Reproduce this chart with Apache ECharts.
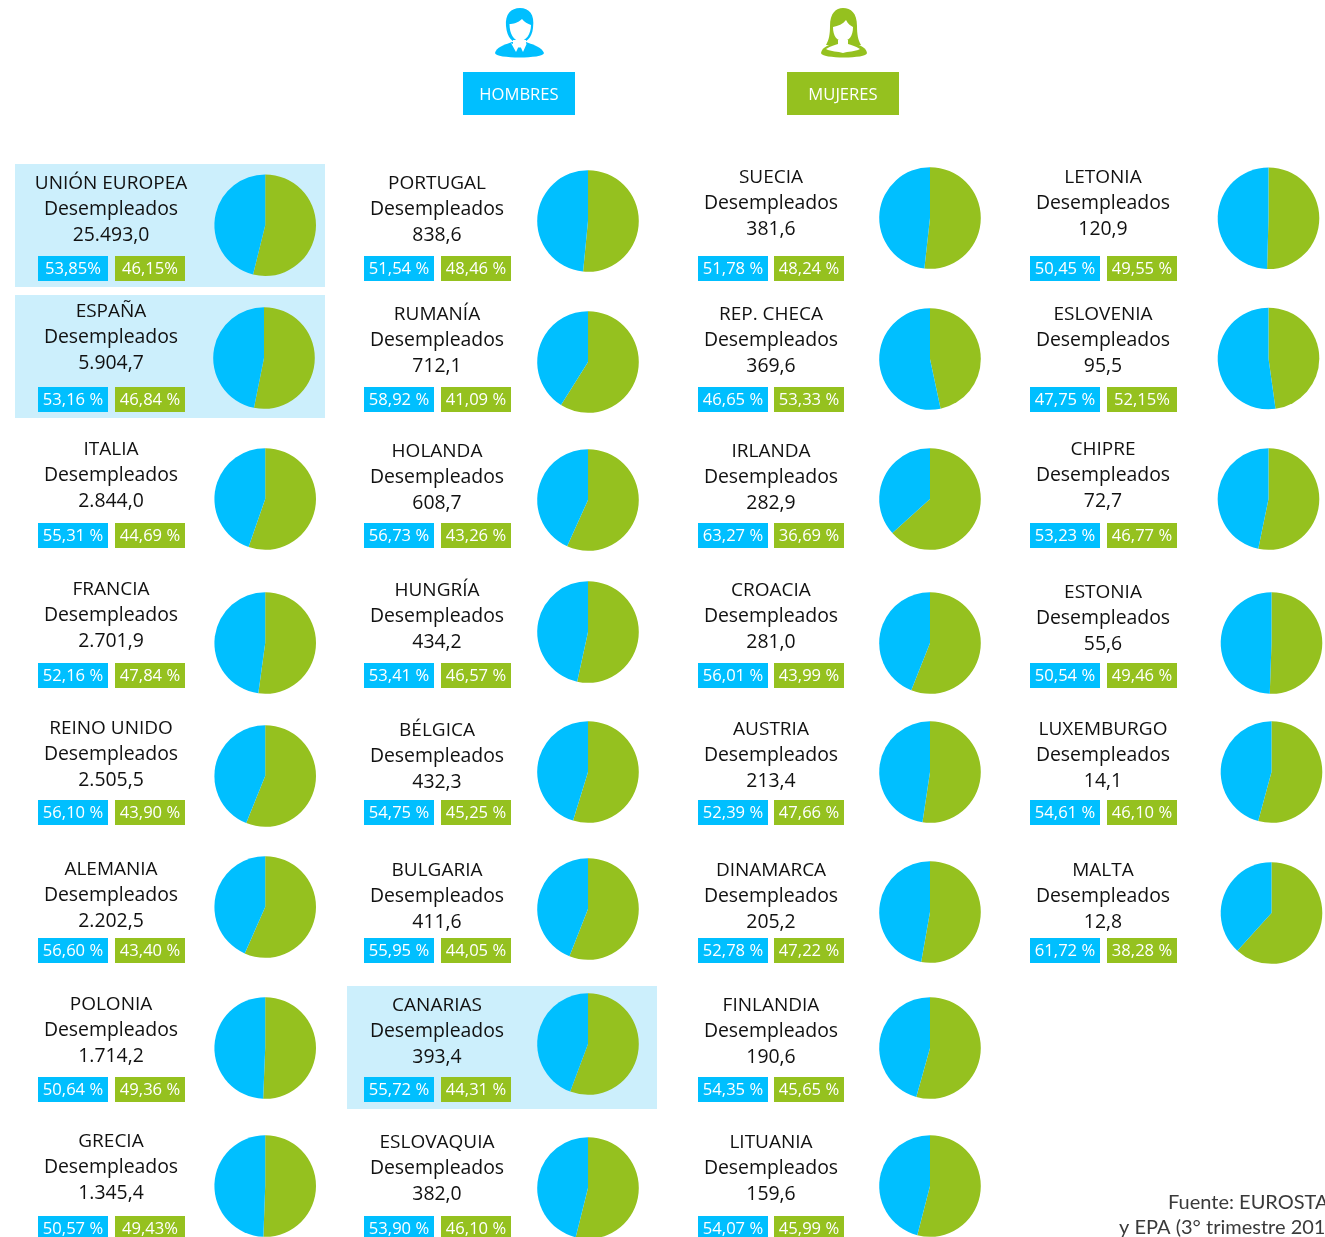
<!DOCTYPE html>
<html><head><meta charset="utf-8">
<style>html,body{margin:0;padding:0;background:#fff;overflow:hidden}#c{width:1325px;height:1237px}</style>
<script src="https://cdn.jsdelivr.net/npm/echarts@6/dist/echarts.min.js"></script>
</head><body><div id="c"></div>
<script>
// ---------- data ----------
const paises = ['UNIÓN EUROPEA','ESPAÑA','ITALIA','FRANCIA','REINO UNIDO','ALEMANIA','POLONIA','GRECIA',
 'PORTUGAL','RUMANÍA','HOLANDA','HUNGRÍA','BÉLGICA','BULGARIA','CANARIAS','ESLOVAQUIA',
 'SUECIA','REP. CHECA','IRLANDA','CROACIA','AUSTRIA','DINAMARCA','FINLANDIA','LITUANIA',
 'LETONIA','ESLOVENIA','CHIPRE','ESTONIA','LUXEMBURGO','MALTA'];
const desempleados = ['25.493,0','5.904,7','2.844,0','2.701,9','2.505,5','2.202,5','1.714,2','1.345,4',
 '838,6','712,1','608,7','434,2','432,3','411,6','393,4','382,0',
 '381,6','369,6','282,9','281,0','213,4','205,2','190,6','159,6',
 '120,9','95,5','72,7','55,6','14,1','12,8'];
const hombres = ['53,85%','53,16 %','55,31 %','52,16 %','56,10 %','56,60 %','50,64 %','50,57 %',
 '51,54 %','58,92 %','56,73 %','53,41 %','54,75 %','55,95 %','55,72 %','53,90 %',
 '51,78 %','46,65 %','63,27 %','56,01 %','52,39 %','52,78 %','54,35 %','54,07 %',
 '50,45 %','47,75 %','53,23 %','50,54 %','54,61 %','61,72 %'];
const mujeres = ['46,15%','46,84 %','44,69 %','47,84 %','43,90 %','43,40 %','49,36 %','49,43%',
 '48,46 %','41,09 %','43,26 %','46,57 %','45,25 %','44,05 %','44,31 %','46,10 %',
 '48,24 %','53,33 %','36,69 %','43,99 %','47,66 %','47,22 %','45,65 %','45,99 %',
 '49,55 %','52,15%','46,77 %','49,46 %','46,10 %','38,28 %'];
const resaltados = ['UNIÓN EUROPEA','ESPAÑA','CANARIAS'];
const fuente = ['Fuente: EUROSTAT','y EPA (3° trimestre 201'];

// ---------- layout (px) ----------
const AZUL='#00BFFF', VERDE='#95C11F', FONT='"Open Sans", sans-serif';
const colText=[111,437,771,1103], colBlue=[38,364,698,1030], colGreen=[115,441,774,1107];
// [column, name y, pie cx, pie cy, badge y centre]
const lay=[
 [0,183,265.2,225.2,268],[0,311,264,358,399],[0,449,265.2,499,535],[0,589,265.2,643,675],[0,728,265.2,776,812],[0,869,265.2,907,950],[0,1004,265.2,1048,1089],[0,1141,265.2,1186,1228],
 [1,183,588,221,268],[1,314,588,362,399],[1,451,588,500,535],[1,590,588,632,675],[1,730,588,772,812],[1,870,588,909,950],[1,1005,588,1044,1089],[1,1142,588,1188,1228],
 [2,177,930,218,268],[2,314,930,359,399],[2,451,930,499,535],[2,590,930,643,675],[2,729,930,772,812],[2,870,930,912,950],[2,1005,930,1048,1089],[2,1142,930,1186,1228],
 [3,177,1268.5,218.2,268],[3,314,1268.5,358.5,399],[3,449,1268.5,499,535],[3,592,1271.5,643,675],[3,729,1271.5,772,812],[3,870,1271.5,913,950]
];
const paneles={'UNIÓN EUROPEA':[15,164],'ESPAÑA':[15,295],'CANARIAS':[347,986]};

const num=s=>parseFloat(s.replace(',','.'));
const series=[], g=[];
resaltados.forEach(n=>{const p=paneles[n];
 g.push({type:'rect',z:0,shape:{x:p[0],y:p[1],width:310,height:123},style:{fill:'#CCEFFC'}});});
const txt=(x,y,t,o={})=>({type:'text',z:5,x,y,style:Object.assign({text:t,fill:'#111',font:'19.4px '+FONT,align:'center',verticalAlign:'middle'},o)});
paises.forEach((n,i)=>{
 const [c,y,cx,cy,by]=lay[i];
 series.push({type:'pie',silent:true,animation:false,center:[cx,cy],radius:[0,50.8],startAngle:90,clockwise:true,
  label:{show:false},labelLine:{show:false},z:3,
  data:[{name:'Hombres',value:num(hombres[i]),itemStyle:{color:VERDE}},{name:'Mujeres',value:num(mujeres[i]),itemStyle:{color:AZUL}}]});
 const x=colText[c];
 g.push(txt(x,y+1,n,{font:'19px '+FONT}),txt(x,y+26.5,'Desempleados'),txt(x,y+52,desempleados[i]));
 g.push({type:'rect',z:4,shape:{x:colBlue[c],y:by-12,width:70,height:25},style:{fill:AZUL}});
 g.push({type:'rect',z:4,shape:{x:colGreen[c],y:by-12,width:70,height:25},style:{fill:VERDE}});
 g.push(txt(colBlue[c]+35,by+1,hombres[i],{fill:'#fff',font:'16.6px '+FONT}));
 g.push(txt(colGreen[c]+35,by+1,mujeres[i],{fill:'#fff',font:'16.6px '+FONT}));
});
// header
g.push({type:'rect',z:4,shape:{x:463,y:72,width:112,height:43},style:{fill:AZUL}});
g.push({type:'rect',z:4,shape:{x:787,y:72,width:112,height:43},style:{fill:VERDE}});
g.push(txt(519,95,'HOMBRES',{fill:'#fff',font:'16.6px '+FONT}));
g.push(txt(843,95,'MUJERES',{fill:'#fff',font:'16.6px '+FONT}));
// icons
let nIco=0;
const P=(d,fill)=>{const name='ico'+(nIco++);
 echarts.graphic.registerShape(name,echarts.graphic.extendPath(d,{}));
 return {type:name,z:6,style:{fill}};};
g.push(P('M495 53 C496 48 503 45 512 42 L526 42 C535 45 542 48 544 53 C544 59 495 59 495 53 Z',AZUL));
g.push(P('M506 26 C505 14 511 8 520 8 C529 8 535 14 533 28 C532 38 526 43 519 43 C513 43 507 38 506 26 Z',AZUL));
g.push(P('M513 40 L526 40 L526 44 L527 43 L523 52 L521 48 L518 48 L516 52 L511 43 L513 44 Z','#fff'));
g.push(P('M509.5 24 C513 24 518 23 522 19 C524 22 528 24 531 25 C531 34 526 41 520 41 C514 41 509.5 34 509.5 24 Z','#fff'));
g.push(P('M518 47.5 L521 47.5 L521.5 54 L519.5 56 L517.5 54 Z',AZUL));
g.push(P('M821 53 C822 48 826 46 832 44 L856 44 C862 46 866 48 867 53 C867 59 821 59 821 53 Z',VERDE));
g.push(P('M830 26 C830 13 836 8 843 8 C851 8 857 13 857 26 C857 34 858 40 861 45 L826 45 C829 40 830 34 830 26 Z',VERDE));
g.push(P('M826 49 C831 46 835 45 838 44 L838 40 L848 40 L848 44 C851 45 855 46 860 49 C855 52 848 51 843 53 C838 51 831 52 826 49 Z','#fff'));
g.push(P('M833 27 C838 26 843 24 846 20 C848 24 851 26 853 27 C853 36 849 41 843 41 C837 41 833 36 833 27 Z','#fff'));
// source
g.push(txt(1168,1203,fuente[0],{fill:'#3a3a3a',font:'20px Lato, sans-serif',align:'left'}));
g.push(txt(1119,1228,fuente[1],{fill:'#3a3a3a',font:'20px Lato, sans-serif',align:'left'}));

const chart=echarts.init(document.getElementById('c'),null,{renderer:'canvas'});
chart.setOption({animation:false,backgroundColor:'#fff',series,graphic:{elements:g}});
</script></body></html>
